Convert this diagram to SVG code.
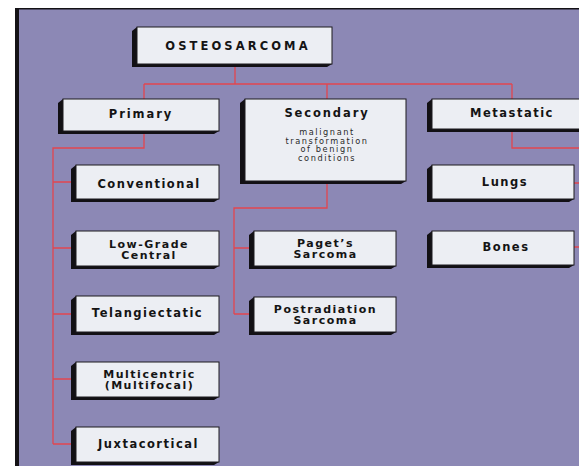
<svg xmlns="http://www.w3.org/2000/svg" width="579" height="466" viewBox="0 0 579 466">
<style>
.face{fill:#eceef3;stroke:#1c1a1e;stroke-width:1}
.sh{fill:#121014}
.t{font-family:"DejaVu Sans","Liberation Sans",Arial,sans-serif;font-weight:bold;font-size:11.5px;fill:#141414;text-anchor:middle;letter-spacing:1.5px}
.s{font-family:"DejaVu Sans","Liberation Sans",Arial,sans-serif;font-size:8.2px;fill:#2a2a2a;text-anchor:middle;letter-spacing:1.6px}
.c{fill:none;stroke:#e2454f;stroke-width:1.3}
</style>
<rect x="0" y="0" width="579" height="466" fill="#ffffff"/>
<rect x="15" y="8" width="564" height="458" fill="#141216"/>
<rect x="19" y="9.5" width="560" height="456.5" fill="#8c88b5"/>
<g id="connectors">
<path class="c" d="M235,64V84M144,84H512M144,84V99M327,84V99M512,84V99"/>
<path class="c" d="M144,131V148H53V444M53,182H76M53,248H76M53,314H76M53,379H76M53,444H76"/>
<path class="c" d="M327,181V208H234V314M234,248H254M234,314H254"/>
<path class="c" d="M512,129V148H579M574,183H579M574,247H579"/>
</g>
<g id="osteosarcoma">
<polygon class="sh" points="137,27 132,31 132,67 327,67 332,64 137,64"/>
<rect class="face" x="137" y="27" width="195" height="37"/>
<text class="t" x="238" y="49.5" style="letter-spacing:3.1px">OSTEOSARCOMA</text>
</g>
<g id="primary">
<polygon class="sh" points="63,99 58,103 58,134 214,134 219,131 63,131"/>
<rect class="face" x="63" y="99" width="156" height="32"/>
<text class="t" x="141" y="117.5" style="letter-spacing:1.9px">Primary</text>
</g>
<g id="secondary">
<polygon class="sh" points="245,99 240,103 240,184 401,184 406,181 245,181"/>
<rect class="face" x="245" y="99" width="161" height="82"/>
<text class="t" x="327" y="117" style="letter-spacing:1.9px">Secondary</text>
<text class="s" x="327" y="135">malignant</text>
<text class="s" x="327" y="143.5">transformation</text>
<text class="s" x="327" y="152">of benign</text>
<text class="s" x="327" y="160.5">conditions</text>
</g>
<g id="metastatic">
<polygon class="sh" points="432,99 427,103 427,132 590,132 590,129 432,129"/>
<rect class="face" x="432" y="99" width="160" height="30"/>
<text class="t" x="512" y="117">Metastatic</text>
</g>
<g id="conventional">
<polygon class="sh" points="76,165 71,169 71,202 214,202 219,199 76,199"/>
<rect class="face" x="76" y="165" width="143" height="34"/>
<text class="t" x="149" y="187.5">Conventional</text>
</g>
<g id="lowgrade">
<polygon class="sh" points="76,231 71,235 71,269 214,269 219,266 76,266"/>
<rect class="face" x="76" y="231" width="143" height="35"/>
<text class="t" x="149" y="247.5" style="font-size:11px">Low-Grade</text>
<text class="t" x="149" y="258.5" style="font-size:11px">Central</text>
</g>
<g id="telangiectatic">
<polygon class="sh" points="76,296 71,300 71,335 214,335 219,332 76,332"/>
<rect class="face" x="76" y="296" width="143" height="36"/>
<text class="t" x="147.5" y="317">Telangiectatic</text>
</g>
<g id="multicentric">
<polygon class="sh" points="76,362 71,366 71,400 214,400 219,397 76,397"/>
<rect class="face" x="76" y="362" width="143" height="35"/>
<text class="t" x="149.5" y="378.3" style="font-size:11px">Multicentric</text>
<text class="t" x="149.5" y="389.2" style="font-size:11px">(Multifocal)</text>
</g>
<g id="juxtacortical">
<polygon class="sh" points="76,427 71,431 71,465 214,465 219,462 76,462"/>
<rect class="face" x="76" y="427" width="143" height="35"/>
<text class="t" x="148.5" y="447.7">Juxtacortical</text>
</g>
<g id="pagets">
<polygon class="sh" points="254,231 249,235 249,269 391,269 396,266 254,266"/>
<rect class="face" x="254" y="231" width="142" height="35"/>
<text class="t" x="325.5" y="247.3" style="font-size:11px">Paget’s</text>
<text class="t" x="325.5" y="258.3" style="font-size:11px">Sarcoma</text>
</g>
<g id="postradiation">
<polygon class="sh" points="254,297 249,301 249,335 391,335 396,332 254,332"/>
<rect class="face" x="254" y="297" width="142" height="35"/>
<text class="t" x="325.5" y="312.7" style="font-size:11px">Postradiation</text>
<text class="t" x="325.5" y="323.6" style="font-size:11px">Sarcoma</text>
</g>
<g id="lungs">
<polygon class="sh" points="432,165 427,169 427,202 569,202 574,199 432,199"/>
<rect class="face" x="432" y="165" width="142" height="34"/>
<text class="t" x="505" y="186">Lungs</text>
</g>
<g id="bones">
<polygon class="sh" points="432,231 427,235 427,268 569,268 574,265 432,265"/>
<rect class="face" x="432" y="231" width="142" height="34"/>
<text class="t" x="506" y="250.7">Bones</text>
</g>
</svg>
